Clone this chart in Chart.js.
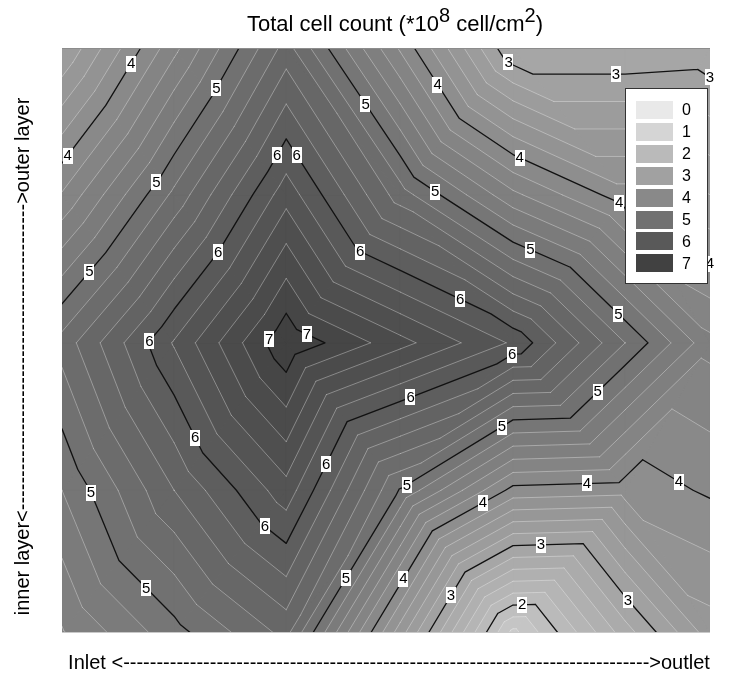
<!DOCTYPE html>
<html>
<head>
<meta charset="utf-8">
<script src="https://cdn.jsdelivr.net/npm/chart.js@4.4.0/dist/chart.umd.min.js"></script>
<style>
  html, body { margin: 0; padding: 0; background: #ffffff; }
  #wrap { width: 733px; height: 677px; position: relative; }
</style>
</head>
<body>
<div id="wrap"><canvas id="c"></canvas></div>
<script>
// Sampling grid: position along the channel (inlet -> outlet, %) and across it (inner -> outer layer, %)
const xNodes = [0, 17.3, 34.6, 52.2, 69.6, 86.9, 100];
const yNodes = [0, 24.4, 49.6, 74.9, 100];

// Total cell count (*10^8 cell/cm2) at each grid node, one array per layer position
const innerLayer  = [4.38, 4.92, 5.46, 3.49, 1.53, 2.70, 3.50];
const innerMid    = [4.80, 5.60, 6.32, 4.98, 3.93, 3.88, 4.03];
const middleLayer = [5.28, 6.22, 7.17, 6.67, 6.17, 5.20, 4.46];
const outerMid    = [4.22, 5.25, 6.32, 5.30, 4.45, 3.88, 3.60];
const outerLayer  = [3.20, 4.34, 5.48, 4.17, 2.81, 2.81, 2.85];

// Diagonal splitting each grid cell into two triangles, rows from inner to outer layer
const cellSplits = ['///\\/\\', '//\\/\\/', '\\\\/\\/\\', '\\\\\\/\\/'];

// Legend classes and their grey levels
const legendLevels = [0, 1, 2, 3, 4, 5, 6, 7];
const legendGrays  = [233, 213, 186, 161, 137, 113, 89, 65];

// Contour interval (thin lines); whole numbers are drawn black and labelled
const contourStep = 0.2;

// Contour labels: level, and where along that contour it sits (x %, y %)
const labelLevels = [4, 5, 4, 5, 6, 6, 5, 6, 7, 7, 6, 6, 5, 6, 5, 5, 6, 6, 6, 6, 6, 5,
                     4, 3, 3, 3, 4, 5, 4, 4, 5, 5, 5, 5, 5, 4, 4, 4, 4, 3, 3, 3, 2];
const labelX = [11.3, 23.8, 1.4, 14.5, 33.2, 36.3, 3.9, 24.1, 31.9, 38.0, 13.3, 20.8, 4.0, 31.9, 13.0, 44.0,
                41.0, 53.9, 69.4, 61.7, 46.5, 47.1, 57.9, 68.8, 85.5, 100, 70.7, 58.0, 86.6, 99.7, 72.5, 86.0,
                82.9, 67.7, 53.4, 81.0, 95.7, 64.8, 52.8, 73.9, 60.2, 87.3, 71.0];
const labelY = [96.9, 93.2, 81.2, 77.1, 81.7, 81.7, 62.1, 65.1, 50.3, 51.5, 50.1, 33.5, 23.8, 19.0, 7.7, 9.2,
                28.7, 40.0, 47.7, 57.6, 66.3, 90.6, 93.7, 97.4, 95.7, 94.9, 81.4, 76.1, 74.9, 62.4, 66.0, 54.7,
                41.0, 35.6, 25.0, 25.8, 26.8, 22.6, 9.2, 15.4, 6.3, 5.6, 4.8];

const FONT = "'Liberation Sans', Arial, Helvetica, sans-serif";

function grayAt(v) {
  const n = legendLevels.length;
  if (v <= legendLevels[0]) return legendGrays[0];
  if (v >= legendLevels[n - 1]) return legendGrays[n - 1];
  for (let i = 0; i < n - 1; i++) {
    if (v <= legendLevels[i + 1]) {
      const t = (v - legendLevels[i]) / (legendLevels[i + 1] - legendLevels[i]);
      return legendGrays[i] + t * (legendGrays[i + 1] - legendGrays[i]);
    }
  }
  return legendGrays[n - 1];
}

function buildTriangles(chart) {
  const xs = chart.scales.x, ys = chart.scales.y;
  const rows = [innerLayer, innerMid, middleLayer, outerMid, outerLayer];
  const node = (c, r) => ({ x: xs.getPixelForValue(xNodes[c]), y: ys.getPixelForValue(yNodes[r]), v: rows[r][c] });
  const tris = [];
  for (let r = 0; r < yNodes.length - 1; r++) {
    for (let c = 0; c < xNodes.length - 1; c++) {
      const ll = node(c, r), lr = node(c + 1, r), ul = node(c, r + 1), ur = node(c + 1, r + 1);
      if (cellSplits[r][c] === '/') {
        tris.push([ll, lr, ur], [ll, ur, ul]);
      } else {
        tris.push([ll, lr, ul], [lr, ur, ul]);
      }
    }
  }
  return tris;
}

// keep the part of a polygon lying at or above a level (values interpolate linearly)
function clipAbove(poly, level) {
  const out = [];
  for (let i = 0; i < poly.length; i++) {
    const p = poly[i], q = poly[(i + 1) % poly.length];
    const pin = p.v >= level, qin = q.v >= level;
    if (pin) out.push(p);
    if (pin !== qin) {
      const t = (level - p.v) / (q.v - p.v);
      out.push({ x: p.x + t * (q.x - p.x), y: p.y + t * (q.y - p.y), v: level });
    }
  }
  return out;
}

function triSegment(tri, L) {
  const pts = [];
  for (let i = 0; i < 3; i++) {
    const p = tri[i], q = tri[(i + 1) % 3];
    if ((p.v >= L) !== (q.v >= L)) {
      const t = (L - p.v) / (q.v - p.v);
      pts.push({ x: p.x + t * (q.x - p.x), y: p.y + t * (q.y - p.y) });
    }
  }
  return pts.length === 2 ? pts : null;
}

const contourPlugin = {
  id: 'contourPlot',
  beforeDatasetsDraw(chart) {
    const ctx = chart.ctx, area = chart.chartArea;
    const tris = buildTriangles(chart);
    let vmin = Infinity, vmax = -Infinity;
    tris.forEach(t => t.forEach(p => { vmin = Math.min(vmin, p.v); vmax = Math.max(vmax, p.v); }));
    const kMin = Math.floor(vmin / contourStep), kMax = Math.ceil(vmax / contourStep);

    ctx.save();
    ctx.beginPath();
    ctx.rect(area.left, area.top, area.right - area.left, area.bottom - area.top);
    ctx.clip();

    // filled bands, painted from the lowest level upwards
    for (let k = kMin; k < kMax; k++) {
      const lo = k * contourStep;
      const g = Math.round(grayAt(lo));
      const col = `rgb(${g},${g},${g})`;
      ctx.fillStyle = col;
      ctx.strokeStyle = col;
      ctx.lineWidth = 0.8;
      ctx.lineJoin = 'round';
      tris.forEach(tri => {
        const poly = k === kMin ? tri : clipAbove(tri, lo);
        if (poly.length < 3) return;
        ctx.beginPath();
        ctx.moveTo(poly[0].x, poly[0].y);
        for (let i = 1; i < poly.length; i++) ctx.lineTo(poly[i].x, poly[i].y);
        ctx.closePath();
        ctx.fill();
        ctx.stroke();
      });
    }

    // contour lines
    const segsByLevel = {};
    for (let k = kMin + 1; k < kMax; k++) {
      const L = k * contourStep;
      const segs = [];
      tris.forEach(tri => { const s = triSegment(tri, L); if (s) segs.push(s); });
      segsByLevel[k] = segs;
      const major = k % 5 === 0;
      ctx.beginPath();
      segs.forEach(s => { ctx.moveTo(s[0].x, s[0].y); ctx.lineTo(s[1].x, s[1].y); });
      ctx.lineCap = 'round';
      if (major) { ctx.strokeStyle = '#111111'; ctx.lineWidth = 1.3; }
      else { ctx.strokeStyle = 'rgba(255,255,255,0.38)'; ctx.lineWidth = 0.9; }
      ctx.stroke();
    }
    ctx.restore();

    // plot frame lines
    ctx.save();
    ctx.lineWidth = 1;
    ctx.strokeStyle = '#8c8c8c';
    ctx.beginPath(); ctx.moveTo(area.left, area.top + 0.5); ctx.lineTo(area.right, area.top + 0.5); ctx.stroke();
    ctx.strokeStyle = '#c8c8c8';
    ctx.beginPath(); ctx.moveTo(area.left, area.bottom - 0.5); ctx.lineTo(area.right, area.bottom - 0.5); ctx.stroke();
    ctx.restore();

    // contour labels, placed on their line nearest the given position
    const xs = chart.scales.x, ys = chart.scales.y;
    ctx.save();
    ctx.font = `15px ${FONT}`;
    ctx.textAlign = 'center';
    ctx.textBaseline = 'middle';
    labelLevels.forEach((lev, i) => {
      const hx = xs.getPixelForValue(labelX[i]), hy = ys.getPixelForValue(labelY[i]);
      const segs = segsByLevel[Math.round(lev / contourStep)] || [];
      let best = null, bd = Infinity;
      segs.forEach(s => {
        const ax = s[0].x, ay = s[0].y, bx = s[1].x, by = s[1].y;
        const dx = bx - ax, dy = by - ay, l2 = dx * dx + dy * dy;
        let t = l2 > 0 ? ((hx - ax) * dx + (hy - ay) * dy) / l2 : 0;
        t = Math.max(0, Math.min(1, t));
        const px = ax + t * dx, py = ay + t * dy;
        const d = (px - hx) ** 2 + (py - hy) ** 2;
        if (d < bd) { bd = d; best = { x: px, y: py }; }
      });
      if (!best || bd > 30 * 30) best = { x: hx, y: hy };
      const txt = String(lev);
      const w = ctx.measureText(txt).width + 2;
      ctx.fillStyle = '#ffffff';
      ctx.fillRect(Math.round(best.x - w / 2), Math.round(best.y - 8), Math.round(w), 16);
      ctx.fillStyle = '#000000';
      ctx.fillText(txt, best.x, best.y + 0.5);
    });
    ctx.restore();
  },
  afterDraw(chart) {
    const ctx = chart.ctx, area = chart.chartArea;
    ctx.save();
    // legend
    const bw = 82, bh = 195;
    const bx = area.right - 85, by = area.top + 40;
    ctx.fillStyle = '#ffffff';
    ctx.fillRect(bx, by, bw, bh);
    ctx.strokeStyle = '#333333';
    ctx.lineWidth = 1;
    ctx.strokeRect(bx + 0.5, by + 0.5, bw, bh);
    ctx.font = `16px ${FONT}`;
    ctx.textBaseline = 'middle';
    ctx.textAlign = 'left';
    legendLevels.forEach((lev, i) => {
      const g = legendGrays[i];
      const cy = by + 22 + i * 21.9;
      ctx.fillStyle = `rgb(${g},${g},${g})`;
      ctx.fillRect(bx + 11, Math.round(cy - 9), 37, 18);
      ctx.fillStyle = '#000000';
      ctx.fillText(String(lev), bx + 57, cy + 1);
    });

    // title with superscripts
    const titleParts = [['Total cell count (*10', false], ['8', true], [' cell/cm', false], ['2', true], [')', false]];
    const mainFont = `22px ${FONT}`, supFont = `20px ${FONT}`;
    let total = 0;
    titleParts.forEach(p => { ctx.font = p[1] ? supFont : mainFont; total += ctx.measureText(p[0]).width; });
    let tx = 395 - total / 2;
    ctx.fillStyle = '#000000';
    ctx.textBaseline = 'alphabetic';
    titleParts.forEach(p => {
      ctx.font = p[1] ? supFont : mainFont;
      ctx.fillText(p[0], tx, p[1] ? 22 : 31);
      tx += ctx.measureText(p[0]).width;
    });

    // axis captions
    ctx.font = `20px ${FONT}`;
    ctx.textAlign = 'center';
    ctx.fillText('Inlet <' + '-'.repeat(79) + '>outlet', (area.left + area.right) / 2 + 3, 669);
    ctx.translate(29, (area.top + area.bottom) / 2 + 16);
    ctx.rotate(-Math.PI / 2);
    ctx.fillText('inner layer<' + '-'.repeat(46) + '>outer layer', 0, 0);
    ctx.restore();
  }
};

const nodePoints = [];
[innerLayer, innerMid, middleLayer, outerMid, outerLayer].forEach((row, r) =>
  row.forEach((v, c) => nodePoints.push({ x: xNodes[c], y: yNodes[r], v })));

new Chart(document.getElementById('c'), {
  type: 'scatter',
  data: { datasets: [{ data: nodePoints, pointRadius: 0, pointHoverRadius: 0 }] },
  options: {
    responsive: true,
    maintainAspectRatio: false,
    animation: false,
    layout: { padding: { left: 62, right: 23, top: 48, bottom: 44 } },
    scales: {
      x: { type: 'linear', min: 0, max: 100, display: false },
      y: { type: 'linear', min: 0, max: 100, display: false }
    },
    plugins: { legend: { display: false }, tooltip: { enabled: false } }
  },
  plugins: [contourPlugin]
});
</script>
</body>
</html>
